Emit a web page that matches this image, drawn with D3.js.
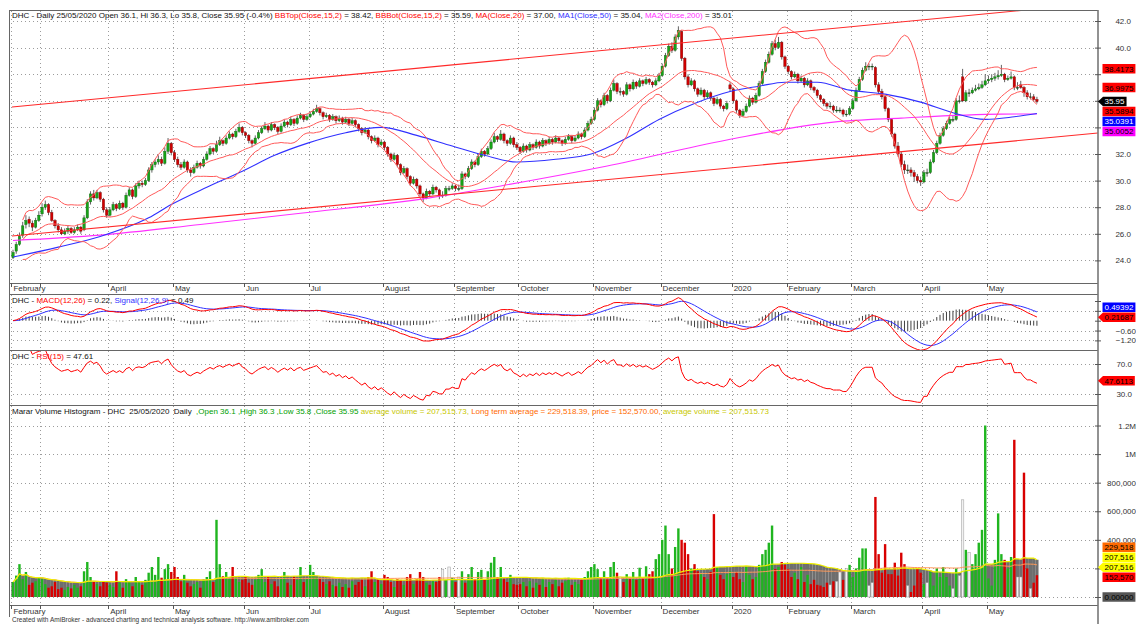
<!DOCTYPE html>
<html>
<head>
<meta charset="utf-8">
<script src="https://cdn.jsdelivr.net/npm/d3@7/dist/d3.min.js"></script>
<style>
  body { margin: 0; background: #fff; }
  svg { display: block; font-family: "Liberation Sans", Arial, sans-serif; }
  text { white-space: pre; }
</style>
</head>
<body>
<svg id="chart" width="1136" height="624"></svg>
<script>
// ---------------- data ----------------
// first bar index of every month on the chart
const monthStarts = [0, 9, 30, 50, 72, 92, 115, 137, 157, 180, 201, 223, 240, 260, 282, 302];
const monthNames = ['February', 'March', 'April', 'May', 'Jun', 'Jul', 'August', 'September',
  'October', 'November', 'December', '2020', 'February', 'March', 'April', 'May'];

const opens = [
  24.2,24.7,25.2,25.9,26.7,27.1,26.8,26.5,27.0,
  27.5,28.0,28.2,27.6,27.0,26.6,26.3,26.0,26.2,26.4,26.1,26.3,26.5,26.3,27.2,28.4,29.0,28.7,29.1,28.6,27.8,
  27.4,27.8,28.2,27.9,28.3,28.0,28.9,29.3,28.8,29.6,29.8,29.7,30.0,30.8,31.2,31.4,31.6,31.3,32.2,32.8,
  32.1,31.6,31.2,31.0,31.4,30.8,30.6,31.0,31.3,31.1,31.6,32.0,32.4,32.2,32.7,33.0,32.8,33.2,33.5,33.3,33.7,34.0,
  33.6,33.4,33.0,32.8,33.2,33.6,33.9,34.1,33.8,34.2,34.0,33.7,34.1,34.4,34.2,34.6,34.3,34.7,34.9,34.6,
  34.8,35.0,35.2,35.4,35.1,34.8,34.9,34.6,34.8,34.5,34.7,34.4,34.6,34.3,34.5,34.2,33.9,33.6,33.8,33.3,33.0,33.2,32.7,
  32.9,32.5,32.0,31.6,31.9,31.2,30.6,30.9,30.3,29.8,30.1,29.6,29.0,28.7,29.2,29.0,29.5,29.3,28.9,28.9,29.4,29.4,
  29.6,29.4,29.4,30.5,30.3,30.9,31.4,31.2,31.8,32.2,32.0,32.4,32.9,33.3,33.1,33.5,33.0,32.8,33.2,32.7,
  32.5,32.2,32.6,32.3,32.7,32.5,32.9,32.6,33.0,32.8,33.1,32.9,33.2,33.0,32.8,33.1,33.3,33.0,33.2,33.5,33.3,33.8,34.3,
  34.6,35.3,36.0,35.7,36.4,36.0,36.8,37.3,36.7,36.7,36.5,37.2,36.9,37.4,37.1,37.5,37.3,37.6,37.4,37.2,37.5,
  37.9,38.6,39.4,40.1,39.8,40.8,41.2,39.2,37.8,37.2,37.5,36.9,36.5,36.8,36.3,36.6,36.2,35.8,36.1,35.6,35.4,37.2,
  36.9,36.0,35.3,34.9,35.2,35.6,36.2,35.9,36.4,37.3,38.2,38.9,39.5,40.3,40.0,40.4,39.3,
  38.6,38.2,37.8,38.0,37.5,37.7,37.2,37.5,37.0,36.8,36.4,36.1,35.8,35.6,35.6,35.3,35.3,35.3,35.0,35.0,
  35.4,36.0,36.8,37.6,38.3,38.6,38.6,38.5,37.2,36.7,36.3,35.4,34.6,33.5,32.6,32.0,31.2,30.8,30.8,30.6,30.3,30.0,
  29.9,30.6,30.6,31.4,32.1,32.8,33.4,33.9,34.3,34.6,34.6,36.0,37.8,36.0,36.6,36.6,36.8,36.9,37.0,37.2,
  37.5,37.6,37.7,37.8,37.9,38.0,37.6,37.7,37.8,37.0,37.2,37.0,36.6,36.3,36.3,36.1
];
const highs = [
  24.8,25.4,26.1,26.9,27.4,27.3,27.0,27.2,27.7,
  28.3,28.5,28.3,27.8,27.1,26.8,26.5,26.4,26.6,26.5,26.5,26.7,26.6,27.4,28.6,29.2,29.3,29.3,29.2,28.7,28.0,
  28.0,28.4,28.3,28.5,28.4,29.1,29.5,29.4,29.8,30.0,30.0,30.2,31.0,31.4,31.6,31.9,31.8,32.5,33.2,32.9,
  32.3,31.8,31.4,31.6,31.5,31.0,31.2,31.5,31.4,31.8,32.2,32.6,32.5,33.0,33.3,33.1,33.4,33.7,33.6,33.9,34.3,34.1,
  33.7,33.5,33.1,33.4,33.8,34.1,34.4,34.2,34.4,34.3,34.1,34.3,34.6,34.5,34.8,34.7,34.9,35.1,35.0,35.0,
  35.2,35.4,35.7,35.5,35.2,35.1,35.0,35.0,34.9,34.9,34.8,34.8,34.7,34.7,34.6,34.3,34.0,34.0,33.9,33.4,33.4,33.3,33.1,
  33.0,32.6,32.1,32.1,32.0,31.3,31.1,31.0,30.4,30.3,30.2,29.7,29.1,29.4,29.3,29.7,29.6,29.4,29.2,29.6,29.6,29.8,
  29.7,29.7,30.7,30.6,31.1,31.6,31.5,32.0,32.4,32.3,32.6,33.1,33.6,33.4,33.8,33.6,33.1,33.4,33.3,32.9,
  32.6,32.8,32.7,32.9,32.8,33.1,33.0,33.2,33.1,33.3,33.2,33.4,33.3,33.1,33.3,33.5,33.4,33.4,33.7,33.6,34.0,34.5,34.8,
  35.5,36.2,36.1,36.6,36.5,37.0,37.6,37.4,37.0,36.8,37.4,37.3,37.6,37.5,37.7,37.6,37.8,37.7,37.5,37.7,38.1,
  38.8,39.6,40.3,40.4,41.0,41.6,41.3,39.3,38.0,37.7,37.6,37.0,37.0,36.9,36.8,36.7,36.3,36.3,36.2,35.7,36.0,37.4,
  37.0,36.1,35.4,35.4,35.8,36.4,36.3,36.6,37.5,38.4,39.1,39.7,40.5,40.6,40.8,40.5,39.4,
  38.7,38.3,38.2,38.1,37.9,37.8,37.7,37.6,37.1,36.9,36.5,36.2,35.9,35.9,35.7,35.6,35.5,35.4,35.3,35.6,
  36.2,37.0,37.8,38.5,38.9,38.8,38.8,38.6,37.4,36.9,36.4,35.5,34.7,33.6,32.9,32.2,31.5,31.2,31.0,30.8,30.5,30.3,
  30.8,30.9,31.6,32.3,33.0,33.6,34.1,34.5,34.8,34.9,36.2,36.4,38.4,36.8,36.9,37.0,37.2,37.3,37.5,38.0,
  37.9,38.0,38.1,38.3,38.7,38.1,37.9,38.2,37.9,37.4,37.5,37.1,36.8,36.6,36.5,36.3
];
const lows = [
  24.1,24.5,25.1,25.7,26.4,26.5,26.2,26.4,26.9,
  27.3,27.8,27.4,26.9,26.4,26.1,25.9,25.9,26.0,26.0,26.0,26.2,26.0,26.2,27.1,28.2,28.5,28.6,28.4,27.6,27.2,
  27.3,27.7,27.7,27.8,27.8,27.9,28.8,28.6,28.7,29.4,29.5,29.6,29.9,30.6,31.0,31.2,31.1,31.2,32.0,31.9,
  31.4,31.0,30.8,30.9,30.6,30.3,30.5,30.9,30.9,31.0,31.5,31.9,32.0,32.1,32.6,32.6,32.7,33.1,33.1,33.2,33.6,33.4,
  33.2,32.8,32.5,32.7,33.1,33.5,33.8,33.6,33.7,33.8,33.5,33.6,34.0,34.0,34.1,34.1,34.2,34.6,34.4,34.5,
  34.7,34.9,35.1,34.9,34.6,34.7,34.4,34.5,34.3,34.4,34.2,34.3,34.1,34.2,34.0,33.7,33.4,33.5,33.1,32.8,32.9,32.5,32.6,
  32.3,31.8,31.4,31.5,31.0,30.4,30.5,30.1,29.6,29.7,29.4,28.8,28.4,28.6,28.8,28.9,29.1,28.6,28.7,28.8,29.2,29.3,
  29.2,29.2,29.3,30.1,30.2,30.8,31.0,31.1,31.7,31.8,31.9,32.3,32.8,32.9,33.0,32.8,32.6,32.7,32.5,32.3,
  32.0,32.1,32.1,32.2,32.3,32.4,32.4,32.5,32.6,32.7,32.7,32.8,32.8,32.6,32.7,33.0,32.8,32.9,33.1,33.1,33.2,33.7,34.2,
  34.5,35.2,35.5,35.6,35.8,35.9,36.7,36.5,36.4,36.3,36.4,36.7,36.8,36.9,37.0,37.1,37.2,37.2,37.0,37.1,37.4,
  37.8,38.5,39.3,39.6,39.7,40.6,39.0,37.6,37.0,37.1,36.7,36.3,36.4,36.1,36.2,36.0,35.6,35.7,35.4,35.2,35.3,36.7,
  35.8,35.1,34.7,34.8,35.1,35.5,35.7,35.8,36.3,37.2,38.1,38.8,39.4,39.8,39.9,39.1,38.4,
  38.0,37.6,37.7,37.3,37.4,37.0,37.1,36.8,36.6,36.2,35.9,35.6,35.4,35.4,35.1,35.1,35.1,34.8,34.8,34.9,
  35.3,35.9,36.7,37.5,38.2,38.3,38.3,37.0,36.5,36.1,35.2,34.4,33.3,32.4,31.8,31.0,30.5,30.5,30.3,29.9,29.8,29.6,
  29.8,30.3,30.5,31.3,32.0,32.7,33.3,33.8,34.2,34.4,34.5,35.8,35.9,35.9,36.3,36.5,36.7,36.8,36.9,37.1,
  37.3,37.4,37.5,37.6,37.8,37.4,37.5,37.6,36.8,36.8,36.9,36.3,36.1,36.1,36.0,35.8
];
const closes = [
  24.6,25.2,25.8,26.6,27.0,26.8,26.5,27.0,27.4,
  28.0,28.2,27.6,27.0,26.6,26.3,26.0,26.2,26.4,26.1,26.3,26.5,26.2,27.2,28.4,29.0,28.7,29.1,28.6,27.8,27.4,
  27.8,28.2,27.9,28.3,28.0,28.9,29.3,28.8,29.6,29.8,29.7,30.0,30.8,31.2,31.4,31.6,31.3,32.2,32.8,32.1,
  31.6,31.2,31.0,31.4,30.8,30.6,31.0,31.3,31.1,31.6,32.0,32.4,32.2,32.7,33.0,32.8,33.2,33.5,33.3,33.7,34.0,33.6,
  33.4,33.0,32.8,33.2,33.6,33.9,34.1,33.8,34.2,34.0,33.7,34.1,34.4,34.2,34.6,34.3,34.7,34.9,34.6,34.8,
  35.0,35.2,35.4,35.1,34.8,34.9,34.6,34.8,34.5,34.7,34.4,34.6,34.3,34.5,34.2,33.9,33.6,33.8,33.3,33.0,33.2,32.7,32.9,
  32.5,32.0,31.6,31.9,31.2,30.6,30.9,30.3,29.8,30.1,29.6,29.0,28.7,29.2,29.0,29.5,29.3,28.9,28.9,29.4,29.4,29.6,
  29.4,29.4,30.5,30.3,30.9,31.4,31.2,31.8,32.2,32.0,32.4,32.9,33.3,33.1,33.5,33.0,32.8,33.2,32.7,32.5,
  32.2,32.6,32.3,32.7,32.5,32.9,32.6,33.0,32.8,33.1,32.9,33.2,33.0,32.8,33.1,33.3,33.0,33.2,33.5,33.3,33.8,34.3,34.6,
  35.3,36.0,35.7,36.4,36.0,36.8,37.3,36.7,36.7,36.5,37.2,36.9,37.4,37.1,37.5,37.3,37.6,37.4,37.2,37.5,37.9,
  38.6,39.4,40.1,39.8,40.8,41.3,39.2,37.8,37.2,37.5,36.9,36.5,36.8,36.3,36.6,36.2,35.8,36.1,35.6,35.4,35.8,36.9,
  36.0,35.3,34.9,35.2,35.6,36.2,35.9,36.4,37.3,38.2,38.9,39.5,40.3,40.0,40.4,39.3,38.6,
  38.2,37.8,38.0,37.5,37.7,37.2,37.5,37.0,36.8,36.4,36.1,35.8,35.6,35.6,35.3,35.3,35.3,35.0,35.0,35.4,
  36.0,36.8,37.6,38.3,38.6,38.6,38.6,37.2,36.7,36.3,35.4,34.6,33.5,32.6,32.0,31.2,30.8,30.8,30.6,30.3,30.0,29.9,
  30.6,30.6,31.4,32.1,32.8,33.4,33.9,34.3,34.6,34.6,36.0,36.0,36.0,36.6,36.6,36.8,36.9,37.0,37.2,37.5,
  37.6,37.7,37.8,37.9,38.0,37.6,37.7,37.8,37.0,37.0,37.0,36.6,36.3,36.3,36.1,35.95
];
// daily volume, thousands of shares
const volumes = [
  105,150,230,125,175,85,100,110,140,
  125,90,65,75,105,55,65,50,70,60,85,65,75,180,245,140,105,90,75,110,100,
  85,70,180,100,65,125,110,75,140,105,85,120,170,210,155,280,135,195,230,175,
  210,140,110,155,100,75,90,105,65,125,140,180,105,540,230,145,175,125,210,135,105,120,
  140,100,85,120,155,195,105,140,90,110,75,125,175,100,85,140,120,210,105,125,
  225,175,140,125,105,90,110,85,75,100,70,90,65,110,85,105,120,75,140,180,105,125,90,
  155,140,105,70,125,120,85,140,160,90,125,175,140,100,85,110,105,140,195,120,210,135,
  105,140,180,100,160,210,125,175,190,120,180,240,280,140,210,125,105,155,90,85,
  90,105,75,110,65,100,85,125,70,105,90,120,75,100,110,135,85,105,90,120,140,180,210,
  230,195,140,180,125,210,245,170,140,105,160,125,175,120,205,140,215,160,180,265,300,
  400,500,300,200,350,480,400,380,300,200,230,180,160,140,125,175,580,210,155,125,160,180,
  140,175,125,105,210,155,125,140,225,300,330,380,500,195,210,245,225,
  195,140,170,125,210,105,155,90,120,85,80,70,100,85,110,110,175,120,200,225,
  140,200,275,340,340,80,100,700,300,170,370,160,160,240,150,310,230,80,35,80,200,170,
  90,100,175,80,200,140,210,140,80,60,200,150,680,330,310,230,300,380,470,1200,
  130,80,260,585,300,260,200,280,1100,140,140,870,200,60,100,152.57
];

// moving averages: [bar index, value]
const ma50Readings = [[0,24.25],[14,25.0],[27,25.8],[42,27.2],[49,28.2],[60,29.5],[71,30.7],[81,31.9],
  [91,32.8],[103,33.6],[114,34.0],[125,33.4],[136,32.6],[146,31.9],[156,31.4],[168,31.6],[179,32.0],
  [190,33.2],[200,34.6],[211,35.8],[222,36.7],[231,37.1],[239,37.4],[249,37.4],[259,36.8],[270,36.5],
  [281,35.9],[291,35.1],[301,34.6],[310,34.8],[317,35.04]];
const ma200Readings = [[0,25.5],[27,25.9],[58,26.7],[89,27.55],[129,28.7],[151,29.6],[182,31.0],
  [221,33.05],[254,34.4],[275,34.7],[306,35.0],[317,35.01]];

// channel lines drawn on the price pane: [bar index, price]
const channelUpper = [[-0.3, 35.53], [335.9, 43.35]];
const channelLower = [[-0.3, 25.83], [335.9, 33.58]];

// last values shown in the right-hand boxes
const priceBoxes = [
  { value: 38.4173, text: '38.4173', fill: '#ff0000', color: '#000' },
  { value: 36.9975, text: '36.9975', fill: '#ff0000', color: '#000' },
  { value: 35.95, text: '35.95', fill: '#000', color: '#fff', arrow: true },
  { value: 35.5894, text: '35.5894', fill: '#ff0000', color: '#000' },
  { value: 35.0391, text: '35.0391', fill: '#0000ff', color: '#fff' },
  { value: 35.0052, text: '35.0052', fill: '#ff00ff', color: '#000' }
];
const macdBoxes = [
  { value: 0.49392, text: '0.49392', fill: '#0000ff', color: '#fff' },
  { value: 0.21687, text: '0.21687', fill: '#ff0000', color: '#000', arrow: true }
];
const rsiBoxes = [{ value: 47.6113, text: '47.6113', fill: '#ff0000', color: '#000', arrow: true }];
const volBoxes = [
  { value: 229.518, text: '229,518', fill: '#ff6a00', color: '#000' },
  { value: 207.516, text: '207,516', fill: '#ffff00', color: '#000' },
  { value: 207.516, text: '207,516', fill: '#ffff00', color: '#000', arrow: true },
  { value: 152.570, text: '152,570', fill: '#ff0000', color: '#000' },
  { value: 0, text: '0.00000', fill: '#555', color: '#000' }
];

const priceTicks = [24, 26, 28, 30, 32, 34, 36, 38, 40, 42];
const macdTicks = [-1.2, -0.6, 0, 0.6, 1.2];
const rsiTicks = [30, 70];
const volTicks = [0, 200, 400, 600, 800, 1000, 1200];

// ---------------- layout ----------------
const svg = d3.select('#chart');
const n = closes.length;
const bars = d3.range(n);
const frameLeft = 9, axisX = 1098;
const pane = {
  price: { top: 10, bottom: 283 },
  macd: { top: 294, bottom: 350 },
  rsi: { top: 350, bottom: 405 },
  vol: { top: 405, bottom: 605 }
};
const RED = '#ff0000', BLUE = '#3030ff', MAG = '#ff30ff';
const UP = '#17a317', DOWN = '#d00000';

const step = 3.23;
const x = d3.scaleLinear().domain([0, n - 1]).range([13, 13 + (n - 1) * step]);
const yP = d3.scaleLinear().domain([24, 42]).range([260.4, 21]);
const yM = d3.scaleLinear().domain([-1.2, 1.2]).range([340.4, 301]);
const yR = d3.scaleLinear().domain([30, 70]).range([394, 364]);
const yV = d3.scaleLinear().domain([0, 1200]).range([597, 425.5]);

// ---------------- indicators ----------------
function smaAt(arr, i, len) {
  const s = Math.max(0, i - len + 1);
  let t = 0;
  for (let k = s; k <= i; k++) t += arr[k];
  return t / (i - s + 1);
}
function stdAt(arr, i, len) {
  const s = Math.max(0, i - len + 1), m = smaAt(arr, i, len);
  let t = 0;
  for (let k = s; k <= i; k++) t += (arr[k] - m) ** 2;
  return Math.sqrt(t / (i - s + 1));
}
function ema(arr, len) {
  const k = 2 / (len + 1), out = [];
  arr.forEach((v, i) => out.push(i ? out[i - 1] + k * (v - out[i - 1]) : v));
  return out;
}
const bbTop = bars.map(i => smaAt(closes, i, 15) + 2 * stdAt(closes, i, 15));
const bbBot = bars.map(i => smaAt(closes, i, 15) - 2 * stdAt(closes, i, 15));
const ma20 = bars.map(i => smaAt(closes, i, 20));
const e12 = ema(closes, 12), e26 = ema(closes, 26);
const macd = bars.map(i => e12[i] - e26[i]);
const signal = ema(macd, 9);
const rsi = [];
{
  let ag = 0, al = 0;
  rsi[0] = null;
  for (let i = 1; i < n; i++) {
    const ch = closes[i] - closes[i - 1];
    const g = Math.max(ch, 0), l = Math.max(-ch, 0);
    if (i <= 15) { ag = (ag * (i - 1) + g) / i; al = (al * (i - 1) + l) / i; }
    else { ag = (ag * 14 + g) / 15; al = (al * 14 + l) / 15; }
    rsi[i] = al === 0 ? 100 : 100 - 100 / (1 + ag / al);
  }
}
const avgVol = bars.map(i => smaAt(volumes, i, 50));
const longVol = bars.map(i => smaAt(volumes, i, 100));

// ---------------- helpers ----------------
const defs = svg.append('defs');
function clipFor(id, p) {
  defs.append('clipPath').attr('id', id).append('rect')
    .attr('x', frameLeft).attr('y', p.top).attr('width', axisX - frameLeft).attr('height', p.bottom - p.top);
  return `url(#${id})`;
}
function hGrid(g, scale, ticks) {
  g.selectAll(null).data(ticks).join('line')
    .attr('x1', frameLeft).attr('x2', axisX)
    .attr('y1', d => Math.round(scale(d)) + 0.5).attr('y2', d => Math.round(scale(d)) + 0.5)
    .attr('stroke', '#9c9c9c').attr('stroke-width', 1).attr('stroke-dasharray', '1,3');
}
function vGrid(g, p) {
  g.selectAll(null).data(monthStarts).join('line')
    .attr('x1', d => Math.round(x(d) - step / 2) + 0.5).attr('x2', d => Math.round(x(d) - step / 2) + 0.5)
    .attr('y1', p.top + 1).attr('y2', p.bottom)
    .attr('stroke', '#9c9c9c').attr('stroke-width', 1).attr('stroke-dasharray', '1,3');
}
// stack the value boxes away from the arrow box, the way the reference does
function layoutBoxes(items, scale) {
  items.forEach(d => { d.y = scale(d.value); });
  const anchor = items.find(d => d.arrow);
  if (anchor) {
    const above = items.filter(d => !d.arrow && d.y <= anchor.y).sort((a, b) => b.y - a.y);
    const below = items.filter(d => !d.arrow && d.y > anchor.y).sort((a, b) => a.y - b.y);
    let prev = anchor.y;
    above.forEach(d => { d.y = Math.min(d.y, prev - 10); prev = d.y; });
    prev = anchor.y;
    below.forEach(d => { d.y = Math.max(d.y, prev + 10); prev = d.y; });
  }
  return items;
}
function drawBoxes(items) {
  const h = 9.5;
  items.forEach(d => {
    const g = svg.append('g');
    const shape = g.append('path');
    const tx = g.append('text').attr('font-size', 8).attr('fill', d.color)
      .attr('x', 1104.5).attr('y', d.y + 3).text(d.text);
    const w = tx.node().getComputedTextLength() + 3.5;
    const y0 = d.y - h / 2, y1 = d.y + h / 2;
    if (d.arrow) shape.attr('d', `M${axisX},${d.y}L1103,${y0}H${1103 + w}V${y1}H1103Z`);
    else shape.attr('d', `M1102.5,${y0}H${1103 + w}V${y1}H1102.5Z`);
    shape.attr('fill', d.fill);
  });
}
// tick labels that sit under a value box are hidden, as in the reference
function rightAxis(scale, ticks, fmt, rightEdge, boxList) {
  const shown = ticks.filter(t => !boxList.some(b => Math.abs(b.y - scale(t)) < 7));
  const g = svg.append('g').attr('transform', `translate(${axisX - 3},0)`)
    .call(d3.axisRight(scale).tickValues(ticks).tickFormat(t => shown.includes(t) ? fmt(t) : '').tickSize(6));
  g.select('.domain').remove();
  g.selectAll('.tick line').attr('stroke', '#555');
  g.selectAll('.tick text').filter(t => !shown.includes(t)).remove();
  g.selectAll('.tick text').attr('x', rightEdge - axisX + 3).attr('text-anchor', 'end')
    .attr('font-size', 8).attr('fill', '#333')
    .attr('font-family', '"Liberation Sans", Arial, sans-serif');
}
function header(y, parts) {
  const t = svg.append('text').attr('x', 12).attr('y', y).attr('font-size', 8);
  parts.forEach(([s, c]) => t.append('tspan').attr('fill', c).text(s));
}
function monthLabels(y, tickTop) {
  let lastEnd = -Infinity;
  monthStarts.forEach((ms, k) => {
    const px = x(ms) - step / 2;
    svg.append('line').attr('x1', Math.round(px) + 0.5).attr('x2', Math.round(px) + 0.5)
      .attr('y1', tickTop).attr('y2', tickTop + 4).attr('stroke', '#555');
    if (px + 1 < lastEnd + 4) return;
    const t = svg.append('text').attr('x', px + 2).attr('y', y).attr('font-size', 8).attr('fill', '#333')
      .text(monthNames[k]);
    lastEnd = px + 2 + t.node().getComputedTextLength();
  });
}

// ---------------- price pane ----------------
const gP = svg.append('g');
hGrid(gP, yP, priceTicks);
vGrid(gP, pane.price);
const gPc = svg.append('g').attr('clip-path', clipFor('cp', pane.price));
gPc.selectAll('line.wick').data(bars).join('line').attr('class', 'wick')
  .attr('x1', i => x(i)).attr('x2', i => x(i))
  .attr('y1', i => yP(highs[i])).attr('y2', i => yP(lows[i]))
  .attr('stroke', '#3a3a3a').attr('stroke-width', 0.8);
gPc.selectAll('rect.body').data(bars).join('rect').attr('class', 'body')
  .attr('x', i => x(i) - 1.2).attr('width', 2.4)
  .attr('y', i => yP(Math.max(opens[i], closes[i])))
  .attr('height', i => Math.max(0.8, Math.abs(yP(opens[i]) - yP(closes[i]))))
  .attr('fill', i => closes[i] > opens[i] ? UP : closes[i] < opens[i] ? DOWN : '#222')
  .attr('stroke', i => closes[i] >= opens[i] ? '#0d600d' : '#7a0000').attr('stroke-width', 0.4);

const lineP = (arr, start) => d3.line().defined(i => i >= start).x(i => x(i)).y(i => yP(arr[i]))(bars);
const curveP = pts => d3.line().curve(d3.curveMonotoneX).x(d => x(d[0])).y(d => yP(d[1]))(pts);
gPc.append('path').attr('d', curveP(ma200Readings)).attr('fill', 'none').attr('stroke', MAG).attr('stroke-width', 1.1);
gPc.append('path').attr('d', curveP(ma50Readings)).attr('fill', 'none').attr('stroke', BLUE).attr('stroke-width', 1.1);
[bbTop, bbBot, ma20].forEach(arr => gPc.append('path').attr('d', lineP(arr, 3))
  .attr('fill', 'none').attr('stroke', '#ff5a5a').attr('stroke-width', 1));
[channelUpper, channelLower].forEach(seg => gPc.append('path')
  .attr('d', d3.line().x(d => x(d[0])).y(d => yP(d[1]))(seg))
  .attr('fill', 'none').attr('stroke', '#ff2a2a').attr('stroke-width', 1.1));

header(18, [
  ['DHC - Daily 25/05/2020 Open 36.1, Hi 36.3, Lo 35.8, Close 35.95 (-0.4%) ', '#111'],
  ['BBTop(Close,15,2)', RED], [' = 38.42, ', '#111'],
  ['BBBot(Close,15,2)', RED], [' = 35.59, ', '#111'],
  ['MA(Close,20)', RED], [' = 37.00, ', '#111'],
  ['MA1(Close,50)', BLUE], [' = 35.04, ', '#111'],
  ['MA2(Close,200)', MAG], [' = 35.01', '#111']
]);

// ---------------- MACD pane ----------------
const gM = svg.append('g');
hGrid(gM, yM, [-1.2, -0.6, 0.6]);
vGrid(gM, pane.macd);
const gMc = svg.append('g').attr('clip-path', clipFor('cm', pane.macd));
gMc.selectAll('line').data(bars).join('line')
  .attr('x1', i => x(i)).attr('x2', i => x(i))
  .attr('y1', yM(0)).attr('y2', i => yM(macd[i] - signal[i]))
  .attr('stroke', '#111').attr('stroke-width', 0.8);
gMc.append('path').attr('d', d3.line().x(i => x(i)).y(i => yM(signal[i]))(bars))
  .attr('fill', 'none').attr('stroke', BLUE).attr('stroke-width', 1);
gMc.append('path').attr('d', d3.line().x(i => x(i)).y(i => yM(macd[i]))(bars))
  .attr('fill', 'none').attr('stroke', RED).attr('stroke-width', 1);
header(303, [['DHC - ', '#111'], ['MACD(12,26)', RED], [' = 0.22, ', '#111'],
  ['Signal(12,26,9)', BLUE], [' = 0.49', '#111']]);

// ---------------- RSI pane ----------------
const gR = svg.append('g');
hGrid(gR, yR, rsiTicks);
vGrid(gR, pane.rsi);
const gRc = svg.append('g').attr('clip-path', clipFor('cr', pane.rsi));
gRc.append('path').attr('d', d3.line().defined(i => i >= 2).x(i => x(i)).y(i => yR(rsi[i]))(bars))
  .attr('fill', 'none').attr('stroke', RED).attr('stroke-width', 1);
header(359, [['DHC - ', '#111'], ['RSI(15)', RED], [' = 47.61', '#111']]);

// ---------------- volume pane ----------------
const gV = svg.append('g');
hGrid(gV, yV, volTicks);
vGrid(gV, pane.vol);
const gVc = svg.append('g').attr('clip-path', clipFor('cv', pane.vol));
gVc.selectAll('rect.avg').data(bars).join('rect').attr('class', 'avg')
  .attr('x', i => x(i) - step / 2).attr('width', step)
  .attr('y', i => yV(avgVol[i])).attr('height', i => yV(0) - yV(avgVol[i]))
  .attr('fill', '#6e6e6e');
const volFill = i => i === 0 || closes[i] > closes[i - 1] ? '#1fb51f' : closes[i] < closes[i - 1] ? '#d80000' : '#f2f2f2';
gVc.selectAll('rect.vol').data(bars).join('rect').attr('class', 'vol')
  .attr('x', i => x(i) - 1.2).attr('width', 2.4)
  .attr('y', i => yV(volumes[i])).attr('height', i => yV(0) - yV(volumes[i]))
  .attr('fill', volFill)
  .attr('stroke', i => volFill(i) === '#f2f2f2' ? '#999' : 'none').attr('stroke-width', 0.5);
gVc.append('path').attr('d', d3.line().x(i => x(i)).y(i => yV(longVol[i]))(bars))
  .attr('fill', 'none').attr('stroke', '#ff9a5a').attr('stroke-width', 1);
gVc.append('path').attr('d', d3.line().x(i => x(i)).y(i => yV(avgVol[i]))(bars))
  .attr('fill', 'none').attr('stroke', '#f0f000').attr('stroke-width', 1.2);
header(414, [['Marar Volume Histogram - DHC  25/05/2020  Daily  ', '#111'],
  [',Open 36.1 ,High 36.3 ,Low 35.8 ,Close 35.95 ', '#00a000'],
  ['average volume = 207,515.73, ', '#c8c800'],
  ['Long term average = 229,518.39, ', '#ff6a00'],
  ['price = 152,570.00, ', '#ff6a00'],
  ['average volume = 207,515.73', '#c8c800']]);

// ---------------- frames, axes, labels ----------------
[10, 283, 294, 350, 405, 605].forEach(yv => svg.append('line')
  .attr('x1', frameLeft).attr('x2', axisX).attr('y1', yv + 0.5).attr('y2', yv + 0.5)
  .attr('stroke', '#666').attr('stroke-width', 1));
svg.append('line').attr('x1', frameLeft + 0.5).attr('x2', frameLeft + 0.5).attr('y1', 10).attr('y2', 617)
  .attr('stroke', '#666');
svg.append('line').attr('x1', axisX).attr('x2', axisX).attr('y1', 10).attr('y2', 624)
  .attr('stroke', '#777').attr('stroke-width', 1.6);

layoutBoxes(priceBoxes, yP);
layoutBoxes(macdBoxes, yM);
layoutBoxes(rsiBoxes, yR);
layoutBoxes(volBoxes, yV);

rightAxis(yP, priceTicks, d3.format('.1f'), 1131, priceBoxes);
rightAxis(yM, macdTicks, d3.format('.2f'), 1136, macdBoxes);
rightAxis(yR, rsiTicks, d3.format('.1f'), 1132, rsiBoxes);
rightAxis(yV, volTicks, v => v === 1200 ? '1.2M' : v === 1000 ? '1M' : d3.format(',')(v * 1000), 1136, volBoxes);

monthLabels(291, 283);
monthLabels(614, 605);

drawBoxes(priceBoxes);
drawBoxes(macdBoxes);
drawBoxes(rsiBoxes);
drawBoxes(volBoxes);

svg.append('text').attr('x', 12).attr('y', 622).attr('font-size', 6.5).attr('fill', '#333')
  .text('Created with AmiBroker - advanced charting and technical analysis software. http://www.amibroker.com');
</script>
</body>
</html>
